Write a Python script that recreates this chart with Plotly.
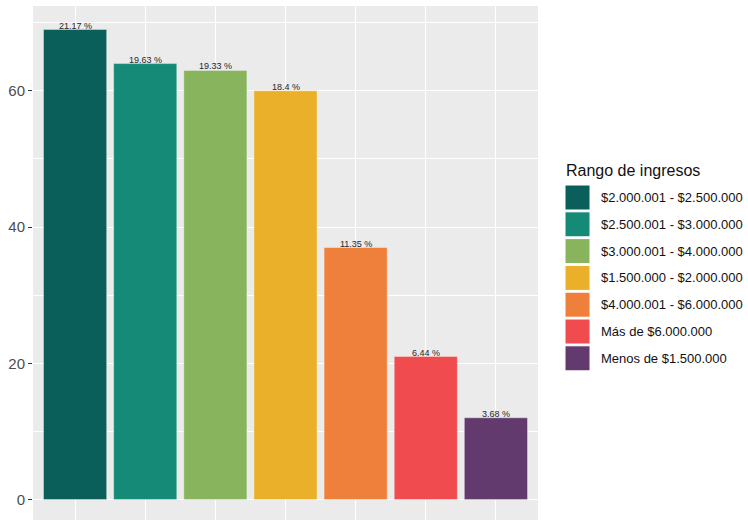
import plotly.graph_objects as go

categories = ["$2.000.001 - $2.500.000", "$2.500.001 - $3.000.000", "$3.000.001 - $4.000.000",
              "$1.500.000 - $2.000.000", "$4.000.001 - $6.000.000", "Más de $6.000.000",
              "Menos de $1.500.000"]
counts = [69, 64, 63, 60, 37, 21, 12]
pct_labels = ["21.17 %", "19.63 %", "19.33 %", "18.4 %", "11.35 %", "6.44 %", "3.68 %"]
colors = ["#0B5F5A", "#158B77", "#88B45E", "#EAB02A", "#EE803B", "#F04B4F", "#633A6E"]
y_ticks = [0, 20, 40, 60]

W, H = 748, 520
L, R, T, B = 33, 538, 6, 520

def px(x):
    return (x - L) / (R - L)

def py(y):
    return (B - y) / (B - T)

fig = go.Figure()
fig.add_trace(go.Bar(
    x=categories, y=counts, width=0.9,
    marker=dict(color=colors, line=dict(color="rgba(255,255,255,0.35)", width=1)),
    showlegend=False, hoverinfo="x+y",
))

for c, v, lab in zip(categories, counts, pct_labels):
    fig.add_annotation(x=c, y=v, text=lab, showarrow=False, yanchor="bottom",
                       yshift=-3, font=dict(size=9, color="#262626", family="Liberation Sans"))

# manual ggplot-style legend
fig.add_annotation(xref="paper", yref="paper", x=px(564), y=py(170), text="Rango de ingresos",
                   showarrow=False, xanchor="left", yanchor="middle",
                   font=dict(size=16, color="#111111", family="Liberation Sans"))
for i, (c, col) in enumerate(zip(categories, colors)):
    top = 185 + i * 26.8
    fig.add_shape(type="rect", xref="paper", yref="paper",
                  x0=px(565), x1=px(590), y0=py(top + 25), y1=py(top),
                  fillcolor=col, line=dict(color="white", width=1))
    fig.add_annotation(xref="paper", yref="paper", x=px(599), y=py(top + 12.5), text=c,
                       showarrow=False, xanchor="left", yanchor="middle",
                       font=dict(size=13, color="#111111", family="Liberation Sans"))

fig.update_layout(
    width=W, height=H,
    margin=dict(l=L, r=W - R, t=T, b=H - B, pad=0),
    plot_bgcolor="#EBEBEB", paper_bgcolor="white",
    font=dict(family="Liberation Sans"),
    bargap=0.1,
)
fig.update_xaxes(showticklabels=False, showgrid=True, gridcolor="white", gridwidth=1.4,
                 range=[-0.6, 6.6], zeroline=False, ticks="")
fig.update_yaxes(range=[-3.0, 72.45], tickvals=y_ticks, showgrid=True, gridcolor="white",
                 gridwidth=1.4, zeroline=False, ticks="outside", ticklen=4,
                 tickcolor="#333333", tickwidth=1,
                 tickfont=dict(size=15, color="#4D4D4D", family="Liberation Sans"),
                 minor=dict(tickvals=[10, 30, 50, 70], showgrid=True, gridcolor="white",
                            gridwidth=0.6, ticks=""))

fig.write_html("out.html", config={"displayModeBar": False},
               post_script="document.body.style.margin='0';")
